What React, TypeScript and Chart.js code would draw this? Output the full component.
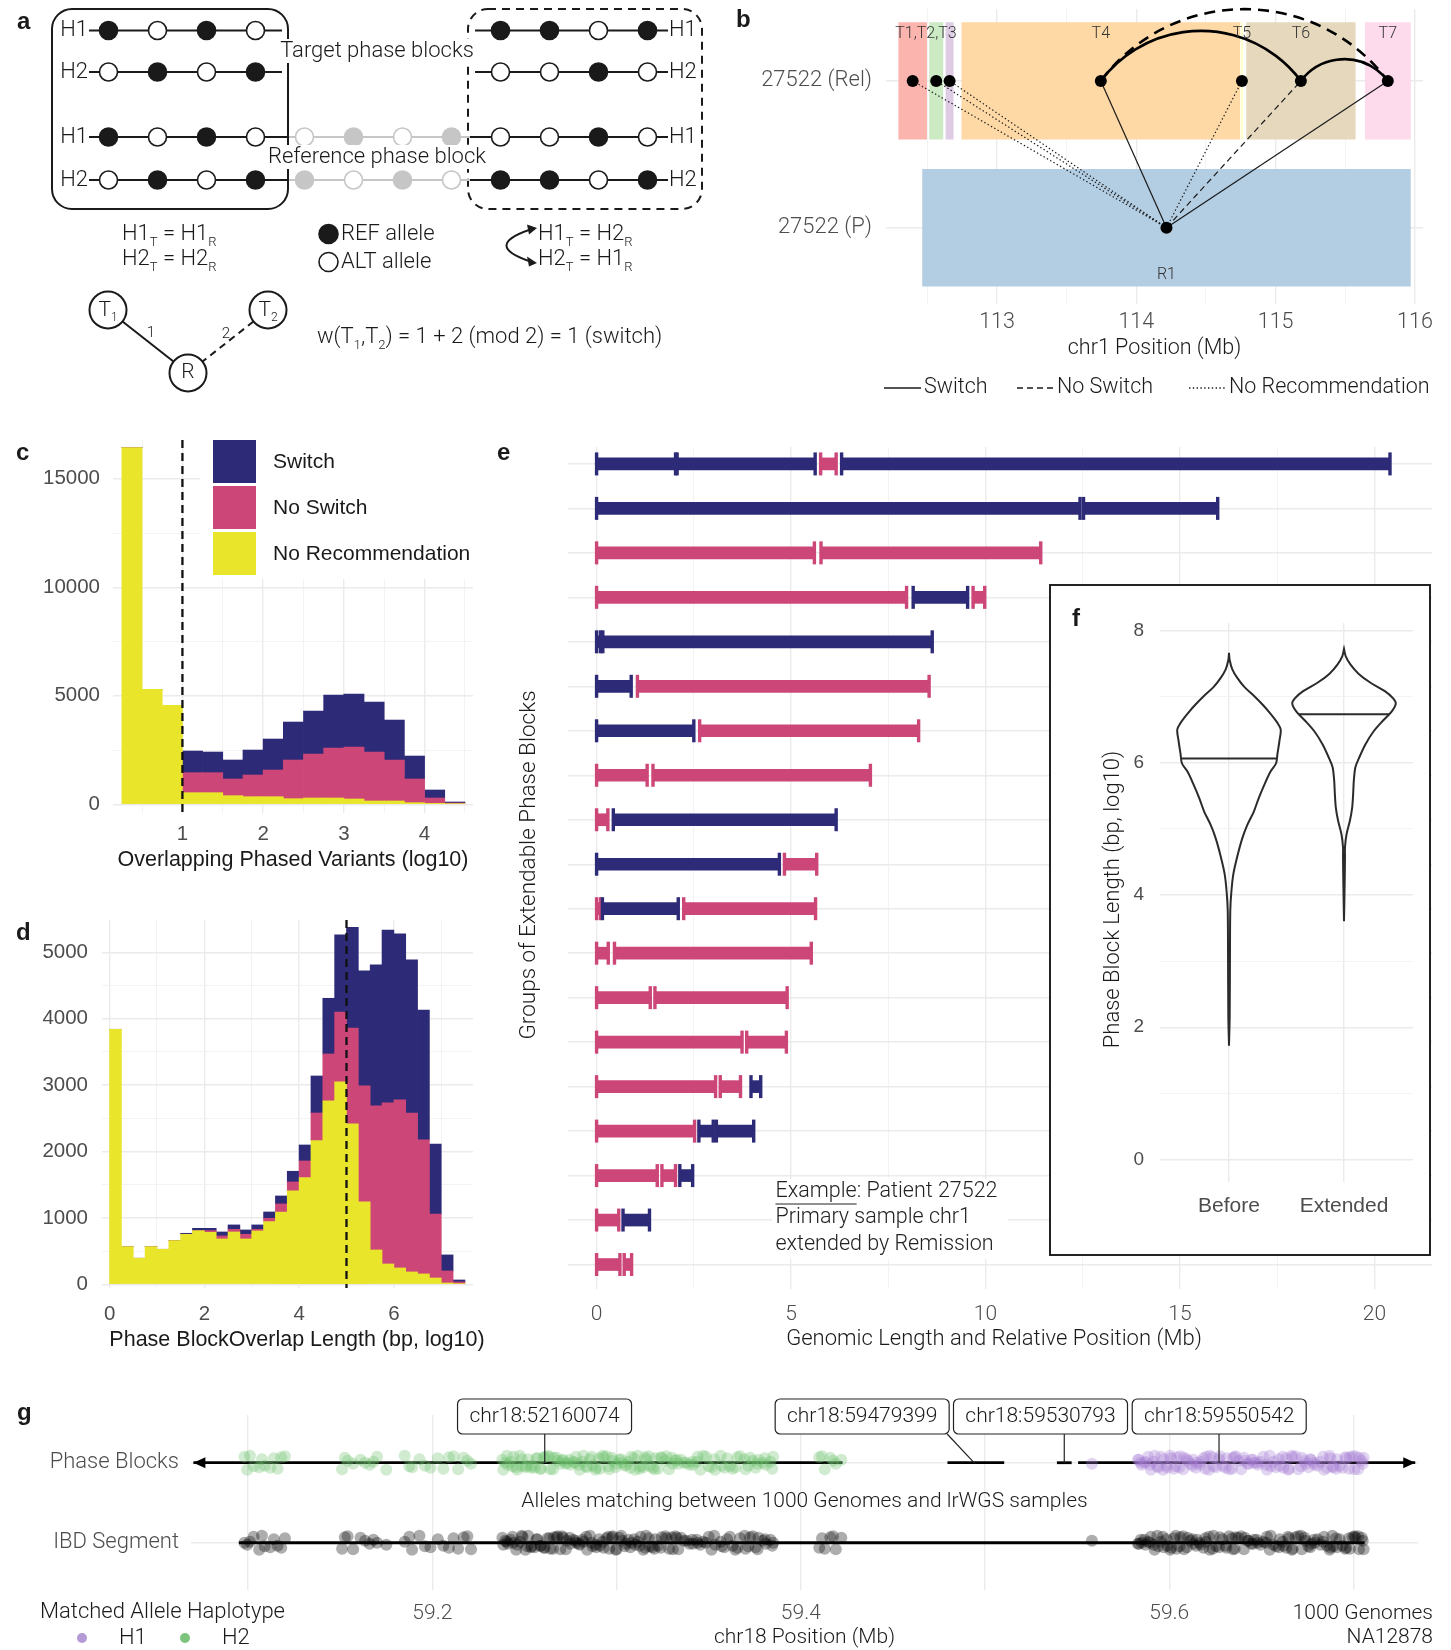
import React, { useEffect, useRef } from 'react';
import { Chart, registerables } from 'chart.js';

Chart.register(...registerables);

/* ---------------- palette & type ---------------- */
const NAVY = '#2D2A77';
const PINK = '#CC4678';
const YELLOW = '#E8E52B';
const GRID = '#EBEBEB';
const GRID_MINOR = '#F2F2F2';
const TICK_GREY = '#4D4D4D';
const INK = '#1A1A1A';
const LIGHT = "Roboto, 'Liberation Sans', Arial, sans-serif";
const SANS = "'Liberation Sans', Arial, Helvetica, sans-serif";

/* ---------------- a: haplotype schematic ---------------- */
// 1 = REF allele, 0 = ALT allele
const targetLeftH1 = [1, 0, 1, 0];
const targetLeftH2 = [0, 1, 0, 1];
const targetRightH1 = [1, 1, 0, 1];
const targetRightH2 = [0, 0, 1, 0];
const referenceH1 = [1, 0, 1, 0, 0, 1, 0, 1, 0, 0, 1, 0];
const referenceH2 = [0, 1, 0, 1, 1, 0, 1, 0, 1, 1, 0, 1];
const graphEdgeWeights = [1, 2];

/* ---------------- b: blocks on chr1 ---------------- */
const blockNames = ['T1', 'T2', 'T3', 'T4', 'T5', 'T6', 'T7', 'R1'];
const blockSample = [1, 1, 1, 1, 1, 1, 1, 0]; // 1 = relapse, 0 = primary
const blockStart = [112.292, 112.513, 112.631, 112.745, 114.75, 114.789, 115.641, 112.463];
const blockEnd = [112.497, 112.614, 112.688, 114.745, 114.766, 115.574, 115.97, 115.97];
const sampleLabels = ['27522 (P)', '27522 (Rel)'];
const edgeTargets = ['T1', 'T2', 'T3', 'T4', 'T5', 'T6', 'T7'];
const edgeCalls = ['No Recommendation', 'No Recommendation', 'No Recommendation', 'Switch', 'No Recommendation', 'No Switch', 'Switch'];
const pathFrom = ['T4', 'T6', 'T4'];
const pathTo = ['T6', 'T7', 'T7'];
const pathCalls = ['Switch', 'Switch', 'No Switch'];
const blockTagText = ['T1,T2,T3', 'T4', 'T5', 'T6', 'T7', 'R1'];
const blockTagFirst = ['T1', 'T4', 'T5', 'T6', 'T7', 'R1'];
const blockTagLast = ['T3', 'T4', 'T5', 'T6', 'T7', 'R1'];

/* ---------------- c: overlapping phased variants ---------------- */
const cBinCentre = [0.375, 0.625, 0.875, 1.125, 1.375, 1.625, 1.875, 2.125, 2.375, 2.625, 2.875, 3.125, 3.375, 3.625, 3.875, 4.125, 4.375];
const cNoRecommendation = [16441, 5296, 4559, 537, 537, 399, 353, 353, 261, 292, 292, 246, 154, 154, 77, 46, 30];
const cNoSwitch = [0, 0, 0, 921, 921, 768, 998, 1228, 1781, 2026, 2302, 2394, 2256, 1888, 1090, 246, 31];
const cSwitch = [0, 0, 0, 998, 952, 875, 1151, 1428, 1750, 1980, 2441, 2441, 2303, 1842, 1059, 368, 46];
const cThreshold = 1;

/* ---------------- d: overlap length ---------------- */
const dBinCentre = [0.125, 0.375, 0.625, 0.875, 1.125, 1.375, 1.625, 1.875, 2.125, 2.375, 2.625, 2.875, 3.125, 3.375, 3.625, 3.875, 4.125, 4.375, 4.625, 4.875, 5.125, 5.375, 5.625, 5.875, 6.125, 6.375, 6.625, 6.875, 7.125, 7.375];
const dNoRecommendation = [3840, 567, 392, 567, 527, 658, 753, 808, 783, 683, 788, 683, 803, 944, 1089, 1406, 1606, 2164, 2761, 3047, 2415, 1240, 517, 306, 246, 186, 156, 95, 20, 10];
const dNoSwitch = [0, 0, 0, 0, 0, 0, 0, 0, 25, 45, 40, 70, 25, 50, 121, 135, 251, 416, 708, 1054, 1445, 1747, 2169, 2425, 2530, 2394, 2018, 964, 181, 25];
const dSwitch = [0, 0, 0, 0, 0, 0, 15, 35, 35, 60, 66, 65, 66, 95, 120, 161, 241, 557, 838, 1160, 1517, 1732, 2123, 2605, 2500, 2305, 1957, 1054, 241, 30];
const dThreshold = 5;

/* ---------------- e: extendable phase block groups ---------------- */
const groupIndex = [1, 1, 1, 1, 2, 2, 3, 3, 4, 4, 4, 5, 5, 6, 6, 7, 7, 8, 8, 9, 9, 10, 10, 11, 11, 11, 12, 12, 13, 13, 14, 14, 15, 15, 15, 16, 16, 16, 17, 17, 17, 18, 18, 19, 19];
const segmentStart = [0, 2.07, 5.76, 6.3, 0, 12.52, 0, 5.77, 0, 8.14, 9.68, 0, 0.16, 0, 1.05, 0, 2.65, 0, 1.45, 0, 0.43, 0, 4.83, 0, 0.15, 2.24, 0, 0.46, 0, 1.5, 0, 3.86, 0, 3.18, 3.97, 0, 2.63, 3.08, 0, 1.68, 2.14, 0, 0.68, 0, 0.71];
const segmentEnd = [2.03, 5.62, 6.16, 20.4, 12.43, 15.97, 5.6, 11.42, 7.97, 9.54, 9.98, 0.1, 8.63, 0.89, 8.55, 2.5, 8.28, 1.3, 7.04, 0.29, 6.16, 4.7, 5.66, 0.1, 2.1, 5.63, 0.3, 5.52, 1.38, 4.9, 3.74, 4.88, 3.06, 3.7, 4.22, 2.52, 3.0, 4.04, 1.56, 2.03, 2.47, 0.57, 1.36, 0.6, 0.9];
const segmentCall = ['S', 'S', 'N', 'S', 'S', 'S', 'N', 'N', 'N', 'S', 'N', 'S', 'S', 'S', 'N', 'S', 'N', 'N', 'N', 'N', 'S', 'S', 'N', 'N', 'S', 'N', 'N', 'N', 'N', 'N', 'N', 'N', 'N', 'N', 'S', 'N', 'S', 'S', 'N', 'N', 'S', 'N', 'S', 'N', 'N'];

/* ---------------- f: block length violins ---------------- */
const violinGroups = ['Before', 'Extended'];
const beforeLevels = [1.72, 2.16, 3.17, 3.77, 4.04, 4.31, 4.58, 4.85, 5.05, 5.26, 5.46, 5.66, 5.86, 5.99, 6.13, 6.33, 6.5, 6.6, 6.74, 6.87, 7.01, 7.14, 7.28, 7.41, 7.55, 7.66];
const beforeDensity = [0, 0.013, 0.019, 0.025, 0.045, 0.083, 0.16, 0.255, 0.35, 0.48, 0.573, 0.68, 0.8, 0.91, 0.936, 0.975, 1, 0.936, 0.8, 0.656, 0.48, 0.3, 0.16, 0.064, 0.013, 0];
const extendedLevels = [3.6, 4.18, 4.58, 4.72, 4.92, 5.12, 5.32, 5.53, 5.73, 5.93, 6.06, 6.27, 6.47, 6.64, 6.77, 6.89, 6.97, 7.08, 7.21, 7.34, 7.48, 7.61, 7.72];
const extendedDensity = [0, 0.013, 0.019, 0.019, 0.05, 0.114, 0.158, 0.177, 0.19, 0.22, 0.285, 0.41, 0.57, 0.76, 0.92, 1, 0.95, 0.79, 0.506, 0.285, 0.127, 0.032, 0];
const violinMedians = [6.06, 6.73];

/* ---------------- g: chr18 phase blocks vs IBD ---------------- */
const h2Markers = [
  59.098, 59.0995, 59.101, 59.103, 59.106, 59.1075, 59.109, 59.112, 59.114, 59.116, 59.118, 59.12,
  59.151, 59.1525, 59.154, 59.157, 59.161, 59.1635, 59.166, 59.168, 59.17, 59.175,
  59.185, 59.1875, 59.189, 59.193, 59.196, 59.199, 59.203, 59.206, 59.209, 59.2115, 59.214, 59.217, 59.219, 59.221,
  59.238, 59.2395, 59.241, 59.2425, 59.244, 59.246, 59.2475, 59.249, 59.2505, 59.252, 59.254, 59.2555, 59.257, 59.259, 59.261, 59.2625, 59.264, 59.266, 59.268, 59.2695, 59.271, 59.273, 59.275, 59.2765, 59.278, 59.28, 59.282, 59.2835, 59.284, 59.2855, 59.287, 59.289, 59.2905, 59.291, 59.293, 59.2945, 59.296, 59.2975, 59.298, 59.3, 59.3015, 59.303, 59.305, 59.3065, 59.308, 59.31, 59.3115, 59.313, 59.3145, 59.316, 59.318, 59.3195, 59.321, 59.3225, 59.324, 59.327, 59.3285, 59.33, 59.332, 59.3335, 59.335, 59.338, 59.3395, 59.341, 59.344, 59.3455, 59.347, 59.35, 59.3515, 59.353, 59.357, 59.3585, 59.36, 59.363, 59.3655, 59.367, 59.37, 59.3725, 59.374, 59.3765, 59.377, 59.3795, 59.381, 59.3835, 59.385,
  59.2385, 59.2405, 59.2435, 59.2455, 59.2485, 59.2515, 59.2535, 59.2565, 59.2585, 59.2605, 59.2635, 59.2655, 59.2675, 59.2705, 59.2725, 59.2745, 59.2775, 59.2795, 59.2815, 59.2865, 59.2885, 59.2925, 59.2955, 59.2995, 59.3025, 59.3045, 59.3075, 59.3095, 59.3125, 59.3155, 59.3175, 59.3205, 59.3245, 59.3265, 59.3305, 59.3325, 59.3365, 59.3415, 59.3435, 59.3485, 59.3535, 59.3565, 59.3615, 59.3645, 59.3695, 59.3715, 59.3755, 59.3805, 59.3845,
  59.41, 59.4115, 59.413, 59.416, 59.4175, 59.419, 59.422,
];
const h1Markers = [
  59.558,
  59.583, 59.5845, 59.585, 59.587, 59.5885, 59.59, 59.592, 59.5935, 59.594, 59.597, 59.5985, 59.599, 59.601, 59.6025, 59.604, 59.606, 59.6075, 59.608, 59.61, 59.6115, 59.613, 59.615, 59.6165, 59.617, 59.62, 59.6215, 59.622, 59.624, 59.6255, 59.627, 59.629, 59.6305, 59.631, 59.634, 59.6355, 59.636, 59.639, 59.6405, 59.641, 59.643, 59.6445, 59.646, 59.648, 59.6495, 59.651, 59.653, 59.6545, 59.655, 59.658, 59.6595, 59.66, 59.662, 59.6635, 59.665, 59.667, 59.6685, 59.67, 59.672, 59.6735, 59.674, 59.677, 59.6785, 59.679, 59.682, 59.6835, 59.684, 59.687, 59.6885, 59.689, 59.691, 59.6925, 59.694, 59.696, 59.6975, 59.698, 59.701, 59.7025, 59.703, 59.7045, 59.705,
  59.5835, 59.5865, 59.5895, 59.5915, 59.5955, 59.5965, 59.6005, 59.6035, 59.6055, 59.6095, 59.6125, 59.6145, 59.6185, 59.6195, 59.6235, 59.6275, 59.6325, 59.6345, 59.6375, 59.6425, 59.6455, 59.6475, 59.6525, 59.6565, 59.6615, 59.6645, 59.6665, 59.6715, 59.6755, 59.6765, 59.6805, 59.6855, 59.6875, 59.6905, 59.6955, 59.6995, 59.7005, 59.7055,
];
const phaseBlockStart = [59.0703, 59.4796, 59.539, 59.5505];
const phaseBlockEnd = [59.4226, 59.5104, 59.547, 59.7335];
const ibdStart = 59.095;
const ibdEnd = 59.706;
const blockLabelText = ['chr18:52160074', 'chr18:59479399', 'chr18:59530793', 'chr18:59550542'];
const blockLabelTarget = [59.261, 59.494, 59.543, 59.627];

/* ---------------- layout / style constants ---------------- */
const BLOCK_FILL = ['#FBB4AE', '#CCEBC5', '#DECBE4', '#FED9A6', '#FFFFCC', '#E5D8BD', '#FDDAEC', '#B3CDE3'];
const CALL_DASH: Record<string, number[]> = { Switch: [], 'No Switch': [6, 4], 'No Recommendation': [1.4, 2.4] };
const A_COL0 = 108.5;
const A_STEP = 49;
const A_ROW = [30.5, 72, 137, 180];
const A_GREY = '#C6C6C6';
const A_NODE: Record<string, number[]> = { T1: [108, 310], T2: [268, 310], R: [188, 373] };
const A_NODE_R = 18.5;
const A_FONT = 22;
const VIOLIN_HALF = 0.45;
const G_LABEL_CENTRE = [59.2609, 59.4333, 59.5301, 59.6271];
const JITTER = [0.075, -0.062, 0.025, -0.088, 0.056, -0.012, 0.088, -0.075, 0.038, -0.044, 0.069, 0.0, -0.056, 0.081, -0.025, 0.044, -0.081, 0.012, -0.038, 0.062];

/* ---------------- helpers ---------------- */
function drawText(ctx: any, s: string, x: number, y: number, o: any = {}) {
  ctx.save();
  ctx.font = `${o.weight || 300} ${o.size || 20}px ${o.family || LIGHT}`;
  ctx.fillStyle = o.color || INK;
  ctx.textAlign = o.align || 'left';
  ctx.textBaseline = 'middle';
  ctx.translate(x, y);
  if (o.rot) ctx.rotate(o.rot);
  ctx.fillText(s, 0, 0);
  ctx.restore();
}

function textWidth(ctx: any, s: string, size: number, family = LIGHT, weight = 300) {
  ctx.save();
  ctx.font = `${weight} ${size}px ${family}`;
  const w = ctx.measureText(s).width;
  ctx.restore();
  return w;
}

// text with subscripts: parts = [text, isSubscript]
function drawRich(ctx: any, parts: any[], x: number, y: number, size: number, align = 'left') {
  const sub = Math.round(size * 0.58);
  ctx.save();
  ctx.fillStyle = INK;
  ctx.textAlign = 'left';
  ctx.textBaseline = 'alphabetic';
  const fontFor = (s: boolean) => `300 ${s ? sub : size}px ${LIGHT}`;
  const widths = parts.map(([t, s]: any) => {
    ctx.font = fontFor(s);
    return ctx.measureText(t).width;
  });
  const total = widths.reduce((a: number, b: number) => a + b, 0);
  let cx = align === 'center' ? x - total / 2 : x;
  const base = y + size * 0.36;
  parts.forEach(([t, s]: any, i: number) => {
    ctx.font = fontFor(s);
    ctx.fillText(t, cx, s ? base + size * 0.28 : base);
    cx += widths[i];
  });
  ctx.restore();
}

function roundRectPath(ctx: any, x: number, y: number, w: number, h: number, r: number) {
  ctx.beginPath();
  ctx.moveTo(x + r, y);
  ctx.arcTo(x + w, y, x + w, y + h, r);
  ctx.arcTo(x + w, y + h, x, y + h, r);
  ctx.arcTo(x, y + h, x, y, r);
  ctx.arcTo(x, y, x + w, y, r);
  ctx.closePath();
}

function axis(o: any) {
  const isMajor = o.major || (() => true);
  return {
    type: 'linear',
    display: true,
    min: o.min,
    max: o.max,
    reverse: !!o.reverse,
    offset: false,
    afterBuildTicks: (s: any) => {
      s.ticks = o.ticks.map((v: number) => ({ value: v }));
    },
    afterFit: (s: any) => {
      if (o.horizontal) s.height = o.size;
      else s.width = o.size;
      s.paddingTop = 0;
      s.paddingBottom = 0;
      s.paddingLeft = 0;
      s.paddingRight = 0;
    },
    ticks: {
      autoSkip: false,
      maxRotation: 0,
      minRotation: 0,
      padding: o.pad,
      color: o.color || TICK_GREY,
      font: { family: o.family || LIGHT, size: o.fontSize || 20, weight: o.weight || 300 },
      callback: (v: number) => o.label(v),
    },
    grid: {
      drawTicks: false,
      offset: false,
      color: (c: any) => (isMajor(c.tick ? c.tick.value : 0) ? GRID : GRID_MINOR),
      lineWidth: (c: any) => (isMajor(c.tick ? c.tick.value : 0) ? 1.4 : 0.9),
    },
    border: { display: false },
  };
}

function baseOptions(padding: any, scales: any) {
  return {
    responsive: false,
    maintainAspectRatio: false,
    animation: false,
    devicePixelRatio: 1,
    events: [],
    layout: { padding, autoPadding: false },
    scales,
    plugins: { legend: { display: false }, tooltip: { enabled: false }, title: { display: false } },
  };
}

const near = (a: number, b: number) => Math.abs(a - b) < 1e-6;

/* ---------------- a ---------------- */
function buildA() {
  const rows = [
    { y: A_ROW[0], alleles: targetLeftH1, from: 0, ref: false },
    { y: A_ROW[1], alleles: targetLeftH2, from: 0, ref: false },
    { y: A_ROW[0], alleles: targetRightH1, from: 8, ref: false },
    { y: A_ROW[1], alleles: targetRightH2, from: 8, ref: false },
    { y: A_ROW[2], alleles: referenceH1, from: 0, ref: true },
    { y: A_ROW[3], alleles: referenceH2, from: 0, ref: true },
  ];
  const pts: any[] = [];
  const fill: string[] = [];
  const edge: string[] = [];
  rows.forEach((r) =>
    r.alleles.forEach((a, i) => {
      const col = r.from + i;
      const faded = r.ref && col >= 4 && col < 8;
      pts.push({ x: A_COL0 + A_STEP * col, y: r.y });
      fill.push(a ? (faded ? A_GREY : INK) : '#fff');
      edge.push(faded ? A_GREY : INK);
    })
  );
  const seg = (x1: number, x2: number, y: number, color: string) => ({
    type: 'scatter', data: [{ x: x1, y }, { x: x2, y }], showLine: true, pointRadius: 0, borderColor: color, borderWidth: 2,
  });
  const edgeLine = (a: string, b: string, dash: number[]) => {
    const [x1, y1] = A_NODE[a];
    const [x2, y2] = A_NODE[b];
    const L = Math.hypot(x2 - x1, y2 - y1);
    const ux = (x2 - x1) / L;
    const uy = (y2 - y1) / L;
    return {
      type: 'scatter',
      data: [{ x: x1 + ux * A_NODE_R, y: y1 + uy * A_NODE_R }, { x: x2 - ux * A_NODE_R, y: y2 - uy * A_NODE_R }],
      showLine: true, pointRadius: 0, borderColor: INK, borderWidth: 2, borderDash: dash,
    };
  };
  const datasets = [
    { type: 'scatter', data: pts, pointRadius: 9, pointBackgroundColor: fill, pointBorderColor: edge, pointBorderWidth: 1.6 },
    { type: 'scatter', data: [{ x: 328.5, y: 234 }, { x: 328.5, y: 262 }], pointRadius: 9.5, pointBackgroundColor: [INK, '#fff'], pointBorderColor: INK, pointBorderWidth: 1.6 },
    { type: 'scatter', data: ['T1', 'T2', 'R'].map((n) => ({ x: A_NODE[n][0], y: A_NODE[n][1] })), pointRadius: A_NODE_R, pointBackgroundColor: '#fff', pointBorderColor: INK, pointBorderWidth: 2 },
    edgeLine('T1', 'R', []),
    edgeLine('T2', 'R', [7, 5]),
    seg(89, 282, A_ROW[0], INK), seg(89, 282, A_ROW[1], INK),
    seg(475, 668, A_ROW[0], INK), seg(475, 668, A_ROW[1], INK),
    seg(89, 289, A_ROW[2], INK), seg(289, 470, A_ROW[2], A_GREY), seg(470, 668, A_ROW[2], INK),
    seg(89, 289, A_ROW[3], INK), seg(289, 470, A_ROW[3], A_GREY), seg(470, 668, A_ROW[3], INK),
  ];
  const plugin = {
    id: 'aSchematic',
    beforeDatasetsDraw(chart: any) {
      const ctx = chart.ctx;
      ctx.save();
      ctx.strokeStyle = INK;
      ctx.lineWidth = 2;
      roundRectPath(ctx, 52, 9, 236, 200, 20);
      ctx.stroke();
      ctx.setLineDash([8, 6]);
      roundRectPath(ctx, 468, 9, 234, 200, 20);
      ctx.stroke();
      ctx.restore();
    },
    afterDatasetsDraw(chart: any) {
      const ctx = chart.ctx;
      drawText(ctx, 'a', 17, 22, { family: SANS, weight: 700, size: 24 });
      ['H1', 'H2', 'H1', 'H2'].forEach((h, i) => {
        drawText(ctx, h, 88, A_ROW[i], { size: A_FONT, align: 'right' });
        drawText(ctx, h, 669, A_ROW[i], { size: A_FONT });
      });
      const banner = (s: string, x: number, y: number) => {
        const w = textWidth(ctx, s, A_FONT);
        ctx.save();
        ctx.fillStyle = '#fff';
        ctx.fillRect(x - w / 2 - 2, y - 12, w + 4, 24);
        ctx.restore();
        drawText(ctx, s, x, y, { size: A_FONT, align: 'center' });
      };
      banner('Target phase blocks', 377, 51);
      banner('Reference phase block', 377, 157);
      drawRich(ctx, [['H1', false], ['T', true], [' = H1', false], ['R', true]], 122, 232, A_FONT);
      drawRich(ctx, [['H2', false], ['T', true], [' = H2', false], ['R', true]], 122, 257, A_FONT);
      drawText(ctx, 'REF allele', 341, 234, { size: A_FONT });
      drawText(ctx, 'ALT allele', 341, 262, { size: A_FONT });
      drawRich(ctx, [['H1', false], ['T', true], [' = H2', false], ['R', true]], 538, 232, A_FONT);
      drawRich(ctx, [['H2', false], ['T', true], [' = H1', false], ['R', true]], 538, 257, A_FONT);
      // swap arrow
      ctx.save();
      ctx.strokeStyle = INK;
      ctx.fillStyle = INK;
      ctx.lineWidth = 2;
      ctx.beginPath();
      ctx.moveTo(529, 230);
      ctx.quadraticCurveTo(484, 245.5, 529, 261);
      ctx.stroke();
      const head = (tx: number, ty: number, dy: number) => {
        ctx.beginPath();
        ctx.moveTo(tx, ty);
        ctx.lineTo(tx - 10, ty - 5 + dy);
        ctx.lineTo(tx - 8, ty + 5 + dy);
        ctx.closePath();
        ctx.fill();
      };
      head(537, 228, 1.5);
      head(537, 263, -1.5);
      ctx.restore();
      drawRich(ctx, [['T', false], ['1', true]], A_NODE.T1[0], A_NODE.T1[1] - 2, 21, 'center');
      drawRich(ctx, [['T', false], ['2', true]], A_NODE.T2[0], A_NODE.T2[1] - 2, 21, 'center');
      drawText(ctx, 'R', A_NODE.R[0], A_NODE.R[1], { size: 21, align: 'center' });
      drawText(ctx, String(graphEdgeWeights[0]), 151, 333, { size: 15, align: 'center' });
      drawText(ctx, String(graphEdgeWeights[1]), 226, 334, { size: 15, align: 'center' });
      const sum = graphEdgeWeights[0] + graphEdgeWeights[1];
      drawRich(
        ctx,
        [['w(T', false], ['1', true], [',T', false], ['2', true], [`) = ${graphEdgeWeights[0]} + ${graphEdgeWeights[1]} (mod 2) = ${sum % 2} (switch)`, false]],
        317, 335, A_FONT
      );
    },
  };
  return {
    type: 'scatter',
    data: { datasets },
    options: baseOptions(0, {
      x: { type: 'linear', display: false, min: 0, max: 720 },
      y: { type: 'linear', display: false, min: 0, max: 400, reverse: true },
    }),
    plugins: [plugin],
  };
}

/* ---------------- b ---------------- */
function blockMid(name: string) {
  const i = blockNames.indexOf(name);
  return (blockStart[i] + blockEnd[i]) / 2;
}

function buildB() {
  const rIdx = blockNames.indexOf('R1');
  const rPt = { x: blockMid('R1'), y: blockSample[rIdx] };
  const edgeSets = edgeTargets.map((t, i) => ({
    type: 'scatter',
    data: [rPt, { x: blockMid(t), y: blockSample[blockNames.indexOf(t)] }],
    showLine: true, pointRadius: 0, borderColor: INK, borderWidth: 1.2, borderDash: CALL_DASH[edgeCalls[i]],
  }));
  const points = {
    type: 'scatter',
    data: blockNames.map((n, i) => ({ x: blockMid(n), y: blockSample[i] })),
    pointRadius: 6, pointBackgroundColor: '#000', pointBorderColor: '#000', pointBorderWidth: 0,
  };
  const rects = {
    type: 'bar', indexAxis: 'y', grouped: false, categoryPercentage: 0.8, barPercentage: 1,
    data: blockNames.map((n, i) => ({ x: [blockStart[i], blockEnd[i]], y: blockSample[i] })),
    backgroundColor: BLOCK_FILL, borderWidth: 0,
  };
  const plugin = {
    id: 'bOverlay',
    afterDatasetsDraw(chart: any) {
      const { ctx } = chart;
      const { x, y } = chart.scales;
      pathFrom.forEach((from, i) => {
        const x1 = x.getPixelForValue(blockMid(from));
        const x2 = x.getPixelForValue(blockMid(pathTo[i]));
        const yy = y.getPixelForValue(1);
        const c = x2 - x1;
        const s = 0.25 * c;
        const R = (c * c) / 4 / (2 * s) + s / 2;
        const cx = (x1 + x2) / 2;
        const cy = yy - s + R;
        const a1 = Math.atan2(yy - cy, x1 - cx);
        const a2 = Math.atan2(yy - cy, x2 - cx);
        ctx.save();
        ctx.beginPath();
        ctx.arc(cx, cy, R, a1, a2, false);
        ctx.lineWidth = 2.6;
        ctx.strokeStyle = '#000';
        ctx.setLineDash(pathCalls[i] === 'No Switch' ? [11, 7] : []);
        ctx.stroke();
        ctx.restore();
      });
      blockTagText.forEach((t, i) => {
        const a = blockNames.indexOf(blockTagFirst[i]);
        const b = blockNames.indexOf(blockTagLast[i]);
        const cx = x.getPixelForValue((blockStart[a] + blockEnd[b]) / 2);
        const cy = y.getPixelForValue(blockSample[a] === 1 ? 1.322 : -0.325);
        drawText(ctx, t, cx, cy, { size: 16, align: 'center', color: '#333' });
      });
    },
    afterDraw(chart: any) {
      const { ctx, chartArea } = chart;
      drawText(ctx, 'b', 16, 20, { family: SANS, weight: 700, size: 24 });
      drawText(ctx, 'chr1 Position (Mb)', (chartArea.left + chartArea.right) / 2, 349, { size: 21.5, align: 'center' });
      const items: any[] = [['Switch', 164], ['No Switch', 297], ['No Recommendation', 469]];
      items.forEach(([name, x0]) => {
        ctx.save();
        ctx.strokeStyle = INK;
        ctx.lineWidth = 1.4;
        ctx.setLineDash(CALL_DASH[name]);
        ctx.beginPath();
        ctx.moveTo(x0, 388);
        ctx.lineTo(x0 + 37, 388);
        ctx.stroke();
        ctx.restore();
        drawText(ctx, name, x0 + 40, 388, { size: 21.5 });
      });
    },
  };
  return {
    type: 'bar',
    data: { datasets: [points, ...edgeSets, rects] },
    options: baseOptions({ left: 0, right: 28, top: 9, bottom: 0 }, {
      x: axis({
        horizontal: true, min: 112.203, max: 116.058, size: 96, pad: 6, fontSize: 21.5,
        ticks: [112.5, 113, 113.5, 114, 114.5, 115, 115.5, 116],
        label: (v: number) => (Number.isInteger(v) ? String(v) : ''),
        major: (v: number) => Number.isInteger(v),
      }),
      y: axis({
        min: -0.52, max: 1.49, size: 166, pad: 14, fontSize: 22, ticks: [0, 1],
        label: (v: number) => sampleLabels[v] || '',
      }),
    }),
    plugins: [plugin],
  };
}

/* ---------------- c & d ---------------- */
function histDatasets(bins: number[], noRec: number[], noSw: number[], sw: number[]) {
  const ds = (label: string, vals: number[], color: string) => ({
    label, data: bins.map((x, i) => ({ x, y: vals[i] })), backgroundColor: color, borderWidth: 0, barPercentage: 1, categoryPercentage: 1,
  });
  return [ds('No Recommendation', noRec, YELLOW), ds('No Switch', noSw, PINK), ds('Switch', sw, NAVY)];
}

function dashedAt(chart: any, value: number) {
  const { ctx, chartArea } = chart;
  const px = chart.scales.x.getPixelForValue(value);
  ctx.save();
  ctx.strokeStyle = '#111';
  ctx.lineWidth = 2.3;
  ctx.setLineDash([8, 5]);
  ctx.beginPath();
  ctx.moveTo(px, chartArea.top);
  ctx.lineTo(px, chartArea.bottom);
  ctx.stroke();
  ctx.restore();
}

function buildC() {
  const datasets = histDatasets(cBinCentre, cNoRecommendation, cNoSwitch, cSwitch);
  const plugin = {
    id: 'cExtras',
    beforeDatasetsDraw(chart: any) {
      const ctx = chart.ctx;
      ctx.save();
      ctx.fillStyle = '#fff';
      ctx.fillRect(200, 8, 275, 151);
      ctx.restore();
      const keys = [datasets[2], datasets[1], datasets[0]];
      keys.forEach((d: any, i: number) => {
        ctx.save();
        ctx.fillStyle = d.backgroundColor;
        ctx.fillRect(213, 20 + i * 46, 43, 43);
        ctx.restore();
        drawText(ctx, d.label, 273, 42 + i * 46, { family: SANS, weight: 400, size: 21 });
      });
    },
    afterDatasetsDraw(chart: any) {
      dashedAt(chart, cThreshold);
    },
    afterDraw(chart: any) {
      const { ctx, chartArea } = chart;
      drawText(ctx, 'c', 16, 33, { family: SANS, weight: 700, size: 24 });
      drawText(ctx, 'Overlapping Phased Variants (log10)', (chartArea.left + chartArea.right) / 2, 440, { family: SANS, weight: 400, size: 21.5, align: 'center' });
    },
  };
  return {
    type: 'bar',
    data: { datasets },
    options: baseOptions({ left: 0, right: 17, top: 20, bottom: 0 }, {
      x: { ...axis({
        horizontal: true, min: 0.14, max: 4.6, size: 67, pad: 9, family: SANS, weight: 400, fontSize: 20.5,
        ticks: [0.5, 1, 1.5, 2, 2.5, 3, 3.5, 4, 4.5],
        label: (v: number) => (Number.isInteger(v) ? String(v) : ''),
        major: (v: number) => Number.isInteger(v),
      }), stacked: true },
      y: { ...axis({
        min: -400, max: 16790, size: 113, pad: 13, family: SANS, weight: 400, fontSize: 20.5,
        ticks: [0, 2500, 5000, 7500, 10000, 12500, 15000],
        label: (v: number) => (v % 5000 === 0 ? String(v) : ''),
        major: (v: number) => v % 5000 === 0,
      }), stacked: true },
    }),
    plugins: [plugin],
  };
}

function buildD() {
  const datasets = histDatasets(dBinCentre, dNoRecommendation, dNoSwitch, dSwitch);
  const plugin = {
    id: 'dExtras',
    afterDatasetsDraw(chart: any) {
      dashedAt(chart, dThreshold);
    },
    afterDraw(chart: any) {
      const { ctx } = chart;
      drawText(ctx, 'd', 16, 33, { family: SANS, weight: 700, size: 24 });
      drawText(ctx, 'Phase BlockOverlap Length (bp, log10)', 297, 440, { family: SANS, weight: 400, size: 21.5, align: 'center' });
    },
  };
  return {
    type: 'bar',
    data: { datasets },
    options: baseOptions({ left: 0, right: 27, top: 20, bottom: 0 }, {
      x: { ...axis({
        horizontal: true, min: -0.16, max: 7.67, size: 72, pad: 14, family: SANS, weight: 400, fontSize: 20.5,
        ticks: [0, 1, 2, 3, 4, 5, 6, 7],
        label: (v: number) => (v % 2 === 0 ? String(v) : ''),
        major: (v: number) => v % 2 === 0,
      }), stacked: true },
      y: { ...axis({
        min: -56, max: 5486, size: 102, pad: 14, family: SANS, weight: 400, fontSize: 20.5,
        ticks: [0, 500, 1000, 1500, 2000, 2500, 3000, 3500, 4000, 4500, 5000],
        label: (v: number) => (v % 1000 === 0 ? String(v) : ''),
        major: (v: number) => v % 1000 === 0,
      }), stacked: true },
    }),
    plugins: [plugin],
  };
}

/* ---------------- e ---------------- */
function buildE() {
  const bars: Record<string, any[]> = { S: [], N: [] };
  const caps: Record<string, any[]> = { S: [], N: [] };
  groupIndex.forEach((row, i) => {
    const k = segmentCall[i];
    bars[k].push({ x: [segmentStart[i], segmentEnd[i]], y: row });
    caps[k].push({ x: segmentStart[i], y: row }, { x: segmentEnd[i], y: row });
  });
  const capSet = (data: any[], color: string) => ({
    type: 'scatter', data, pointStyle: 'line', pointRotation: 90, pointRadius: 11.5,
    pointBorderColor: color, pointBackgroundColor: color, pointBorderWidth: 3.4, showLine: false,
  });
  const barSet = (data: any[], color: string) => ({
    type: 'bar', indexAxis: 'y', grouped: false, barThickness: 12, data, backgroundColor: color, borderWidth: 0,
  });
  const plugin = {
    id: 'eExtras',
    beforeDatasetsDraw(chart: any) {
      const ctx = chart.ctx;
      ctx.save();
      ctx.fillStyle = '#fff';
      ctx.fillRect(292, 759, 236, 80);
      ctx.restore();
      const w = textWidth(ctx, 'Example', 21.5);
      drawText(ctx, 'Example', 295.5, 772, { size: 21.5, color: '#222' });
      drawText(ctx, ': Patient 27522', 295.5 + w, 772, { size: 21.5, color: '#222' });
      ctx.save();
      ctx.strokeStyle = '#222';
      ctx.lineWidth = 1;
      ctx.beginPath();
      ctx.moveTo(295.5, 784);
      ctx.lineTo(295.5 + w, 784);
      ctx.stroke();
      ctx.restore();
      drawText(ctx, 'Primary sample chr1', 295.5, 798, { size: 21.5, color: '#222' });
      drawText(ctx, 'extended by Remission', 295.5, 825, { size: 21.5, color: '#222' });
    },
    afterDraw(chart: any) {
      const { ctx, chartArea } = chart;
      drawText(ctx, 'e', 17, 33, { family: SANS, weight: 700, size: 24 });
      drawText(ctx, 'Genomic Length and Relative Position (Mb)', 514, 919, { size: 22, align: 'center' });
      drawText(ctx, 'Groups of Extendable Phase Blocks', 49, (chartArea.top + chartArea.bottom) / 2 - 3, { size: 22.5, align: 'center', rot: -Math.PI / 2 });
    },
  };
  return {
    type: 'bar',
    data: { datasets: [capSet(caps.S, NAVY), capSet(caps.N, PINK), barSet(bars.S, NAVY), barSet(bars.N, PINK)] },
    options: baseOptions({ left: 0, right: 19, top: 27, bottom: 0 }, {
      x: axis({
        horizontal: true, min: -0.735, max: 21.48, size: 81, pad: 13, fontSize: 21,
        ticks: [0, 2.5, 5, 7.5, 10, 12.5, 15, 17.5, 20],
        label: (v: number) => (v % 5 === 0 ? String(v) : ''),
        major: (v: number) => v % 5 === 0,
      }),
      y: axis({
        min: 0.62, max: 19.55, reverse: true, size: 88, pad: 8,
        ticks: [1, 2, 3, 4, 5, 6, 7, 8, 9, 10, 11, 12, 13, 14, 15, 16, 17, 18, 19],
        label: () => '',
      }),
    }),
    plugins: [plugin],
  };
}

/* ---------------- f ---------------- */
function violinOutline(centre: number, levels: number[], dens: number[]) {
  const right = levels.map((lv, i) => ({ x: centre + dens[i] * VIOLIN_HALF, y: lv }));
  const left = levels.map((lv, i) => ({ x: centre - dens[i] * VIOLIN_HALF, y: lv })).reverse();
  return [...right, ...left];
}

function densityAt(levels: number[], dens: number[], v: number) {
  for (let i = 1; i < levels.length; i++) {
    if (v <= levels[i]) {
      const t = (v - levels[i - 1]) / (levels[i] - levels[i - 1]);
      return dens[i - 1] + t * (dens[i] - dens[i - 1]);
    }
  }
  return 0;
}

function buildF() {
  const profiles = [
    { levels: beforeLevels, dens: beforeDensity },
    { levels: extendedLevels, dens: extendedDensity },
  ];
  const outlines = profiles.map((p, i) => ({
    data: violinOutline(i + 1, p.levels, p.dens), showLine: true, pointRadius: 0,
    borderColor: '#2B2B2B', borderWidth: 2, tension: 0.3, fill: false,
  }));
  const medians = profiles.map((p, i) => {
    const hw = densityAt(p.levels, p.dens, violinMedians[i]) * VIOLIN_HALF;
    return {
      data: [{ x: i + 1 - hw, y: violinMedians[i] }, { x: i + 1 + hw, y: violinMedians[i] }],
      showLine: true, pointRadius: 0, borderColor: '#2B2B2B', borderWidth: 2,
    };
  });
  const plugin = {
    id: 'fExtras',
    afterDraw(chart: any) {
      const { ctx, chartArea } = chart;
      drawText(ctx, 'f', 21, 33, { family: SANS, weight: 700, size: 24 });
      drawText(ctx, 'Phase Block Length (bp, log10)', 62, (chartArea.top + chartArea.bottom) / 2 - 3, { size: 22, align: 'center', rot: -Math.PI / 2 });
    },
  };
  return {
    type: 'scatter',
    data: { datasets: [...medians, ...outlines] },
    options: baseOptions({ left: 0, right: 16, top: 37, bottom: 0 }, {
      x: axis({
        horizontal: true, min: 0.4, max: 2.6, size: 72, pad: 12, family: SANS, weight: 400, fontSize: 21,
        ticks: [1, 2],
        label: (v: number) => violinGroups[v - 1] || '',
      }),
      y: axis({
        min: -0.34, max: 8.11, size: 109, pad: 16, family: SANS, weight: 400, fontSize: 19,
        ticks: [0, 1, 2, 3, 4, 5, 6, 7, 8],
        label: (v: number) => (v % 2 === 0 ? String(v) : ''),
        major: (v: number) => v % 2 === 0,
      }),
    }),
    plugins: [plugin],
  };
}

/* ---------------- g ---------------- */
function buildG() {
  const allMarkers = [...h2Markers, ...h1Markers];
  const n = JITTER.length;
  const dots = (xs: number[], row: number, color: string, shift: number) => ({
    data: xs.map((x, i) => ({ x, y: row + JITTER[(i * 3 + shift) % n] })),
    pointRadius: 6, pointBackgroundColor: color, pointBorderWidth: 0, showLine: false,
  });
  const seg = (a: number, b: number, row: number) => ({
    data: [{ x: a, y: row }, { x: b, y: row }], showLine: true, pointRadius: 0, borderColor: '#000', borderWidth: 2.8,
  });
  const datasets = [
    seg(ibdStart, ibdEnd, 0),
    dots(h1Markers, 1, 'rgba(165,125,210,0.32)', 5),
    dots(h2Markers, 1, 'rgba(108,194,108,0.32)', 0),
    dots(allMarkers, 0, 'rgba(0,0,0,0.32)', 11),
    ...phaseBlockStart.map((s, i) => seg(s, phaseBlockEnd[i], 1)),
  ];
  const plugin = {
    id: 'gExtras',
    afterDatasetsDraw(chart: any) {
      const { ctx } = chart;
      const { x, y } = chart.scales;
      const yRow = y.getPixelForValue(1);
      // arrow heads where blocks run off the window
      const arrow = (tip: number, dir: number) => {
        ctx.save();
        ctx.fillStyle = '#000';
        ctx.beginPath();
        ctx.moveTo(tip, yRow);
        ctx.lineTo(tip - dir * 12, yRow - 5.5);
        ctx.lineTo(tip - dir * 12, yRow + 5.5);
        ctx.closePath();
        ctx.fill();
        ctx.restore();
      };
      arrow(x.getPixelForValue(phaseBlockStart[0]), -1);
      arrow(x.getPixelForValue(phaseBlockEnd[phaseBlockEnd.length - 1]), 1);
      blockLabelText.forEach((t, i) => {
        const cx = x.getPixelForValue(G_LABEL_CENTRE[i]);
        const tx = x.getPixelForValue(blockLabelTarget[i]);
        const bl = cx - 87;
        const br = cx + 87;
        ctx.save();
        ctx.strokeStyle = '#222';
        ctx.lineWidth = 1.2;
        ctx.beginPath();
        ctx.moveTo(Math.min(Math.max(tx, bl + 2), br - 2), 54);
        ctx.lineTo(tx, yRow);
        ctx.stroke();
        ctx.fillStyle = '#fff';
        roundRectPath(ctx, bl, 19, 174, 35, 5);
        ctx.fill();
        ctx.stroke();
        ctx.restore();
        drawText(ctx, t, cx, 37, { size: 21, align: 'center' });
      });
    },
    afterDraw(chart: any) {
      const { ctx, chartArea } = chart;
      const mid = (chartArea.left + chartArea.right) / 2;
      drawText(ctx, 'g', 17, 33, { family: SANS, weight: 700, size: 24 });
      drawText(ctx, 'Alleles matching between 1000 Genomes and lrWGS samples', mid, 122, { size: 21, align: 'center' });
      drawText(ctx, 'chr18 Position (Mb)', mid, 258, { size: 21, align: 'center' });
      drawText(ctx, 'Matched Allele Haplotype', 40, 232, { size: 22 });
      const key = (cx: number, color: string, label: string) => {
        ctx.save();
        ctx.fillStyle = color;
        ctx.beginPath();
        ctx.arc(cx, 258, 5, 0, Math.PI * 2);
        ctx.fill();
        ctx.restore();
        drawText(ctx, label, cx + 37, 258, { size: 22 });
      };
      key(82, '#B49AD6', 'H1');
      key(185, '#7CC47C', 'H2');
      drawText(ctx, '1000 Genomes', 1433, 234, { size: 21, align: 'right' });
      drawText(ctx, 'NA12878', 1433, 258, { size: 21, align: 'right' });
    },
  };
  return {
    type: 'scatter',
    data: { datasets },
    options: baseOptions({ left: 0, right: 33, top: 35, bottom: 0 }, {
      x: axis({
        horizontal: true, min: 59.069, max: 59.735, size: 60, pad: 11, fontSize: 21,
        ticks: [59.1, 59.2, 59.3, 59.4, 59.5, 59.6, 59.7],
        label: (v: number) => ([59.2, 59.4, 59.6].some((m) => near(m, v)) ? v.toFixed(1) : ''),
      }),
      y: axis({
        min: -0.59, max: 1.596, size: 191, pad: 12, fontSize: 22,
        ticks: [0, 1],
        label: (v: number) => (v === 1 ? 'Phase Blocks' : v === 0 ? 'IBD Segment' : ''),
      }),
    }),
    plugins: [plugin],
  };
}

/* ---------------- canvas host ---------------- */
function Panel(props: { left: number; top: number; width: number; height: number; build: () => any }) {
  const ref = useRef<HTMLCanvasElement | null>(null);
  useEffect(() => {
    if (!ref.current) return undefined;
    const chart = new Chart(ref.current, props.build());
    return () => chart.destroy();
  }, []);
  const { left, top, width, height } = props;
  return (
    <canvas
      ref={ref}
      width={width}
      height={height}
      style={{ position: 'absolute', left, top, width, height, display: 'block' }}
    />
  );
}

export default function App() {
  return (
    <div style={{ position: 'absolute', left: 0, top: 0, width: 1451, height: 1650, background: '#fff', overflow: 'hidden' }}>
      <Panel left={0} top={0} width={720} height={400} build={buildA} />
      <Panel left={720} top={0} width={731} height={400} build={buildB} />
      <Panel left={0} top={420} width={490} height={460} build={buildC} />
      <Panel left={0} top={900} width={500} height={460} build={buildD} />
      <Panel left={480} top={420} width={971} height={950} build={buildE} />
      <div
        style={{
          position: 'absolute', left: 1049, top: 584, width: 382, height: 672,
          boxSizing: 'border-box', border: '2px solid #222', background: '#fff',
        }}
      />
      <Panel left={1051} top={586} width={378} height={668} build={buildF} />
      <Panel left={0} top={1380} width={1451} height={270} build={buildG} />
    </div>
  );
}
